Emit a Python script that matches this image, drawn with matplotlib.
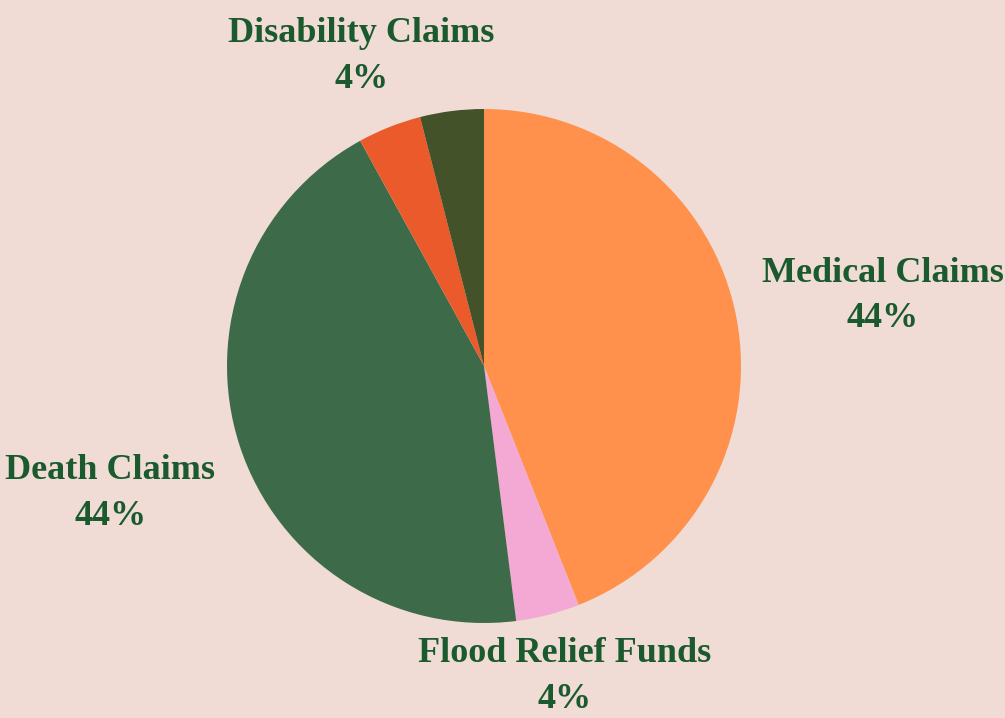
import matplotlib
matplotlib.use("Agg")
import matplotlib.pyplot as plt
import numpy as np

# slice data, clockwise from 12 o'clock
categories = ["Medical Claims", "Flood Relief Funds", "Death Claims",
              "Disability Claims", "Other"]
values = [44, 4, 44, 4, 4]
show_label = [True, True, True, True, False]
colors = ["#FF914D", "#F4A9D4", "#3D6B4A", "#EB5A2B", "#445229"]

bg = "#F0DCD5"
txt_color = "#1B5A2E"

fig = plt.figure(figsize=(10.05, 7.18), dpi=100, facecolor=bg)
# axes sized so the pie sits at (484, 366) with radius ~257 px
cx, cy, r = 484, 366, 257
W, H = 1005, 718
ax = fig.add_axes([(cx - r) / W, (H - cy - r) / H, 2 * r / W, 2 * r / H])
ax.set_facecolor(bg)

wedges, _ = ax.pie(values, colors=colors, startangle=90, counterclock=False,
                   wedgeprops=dict(linewidth=0))
ax.set_xlim(-1, 1)
ax.set_ylim(-1, 1)
ax.set_aspect("equal")
ax.axis("off")

fig.canvas.draw()
renderer = fig.canvas.get_renderer()
total = sum(values)

for w, name, v, show in zip(wedges, categories, values, show_label):
    if not show:
        continue
    ang = np.deg2rad((w.theta1 + w.theta2) / 2)
    c, s = np.cos(ang), np.sin(ang)
    t = ax.text(0, 0, f"{name}\n{round(100 * v / total)}%", ha="center",
                va="center", fontsize=26, fontweight="bold",
                family="Liberation Serif", color=txt_color, linespacing=1.5,
                transform=None)
    bb = t.get_window_extent(renderer)
    hw, hh = bb.width / 2, bb.height / 2
    # push the text box out along the ray until its edge clears the pie
    dx = hw / abs(c) if abs(c) > 1e-6 else 1e9
    dy = hh / abs(s) if abs(s) > 1e-6 else 1e9
    if dx < dy:
        rr = r * 1.1 + dx
        off = -6
    else:
        rr = r * 1.1 + dy + (8 if s > 0 else 0)
        off = 0
    x = cx + rr * c
    y = (H - cy) + rr * s + off
    # keep the box inside the figure
    y = min(max(y, hh + 2), H - hh - 2)
    t.set_position((x, y))

fig.savefig("out.png", dpi=100, facecolor=bg)
